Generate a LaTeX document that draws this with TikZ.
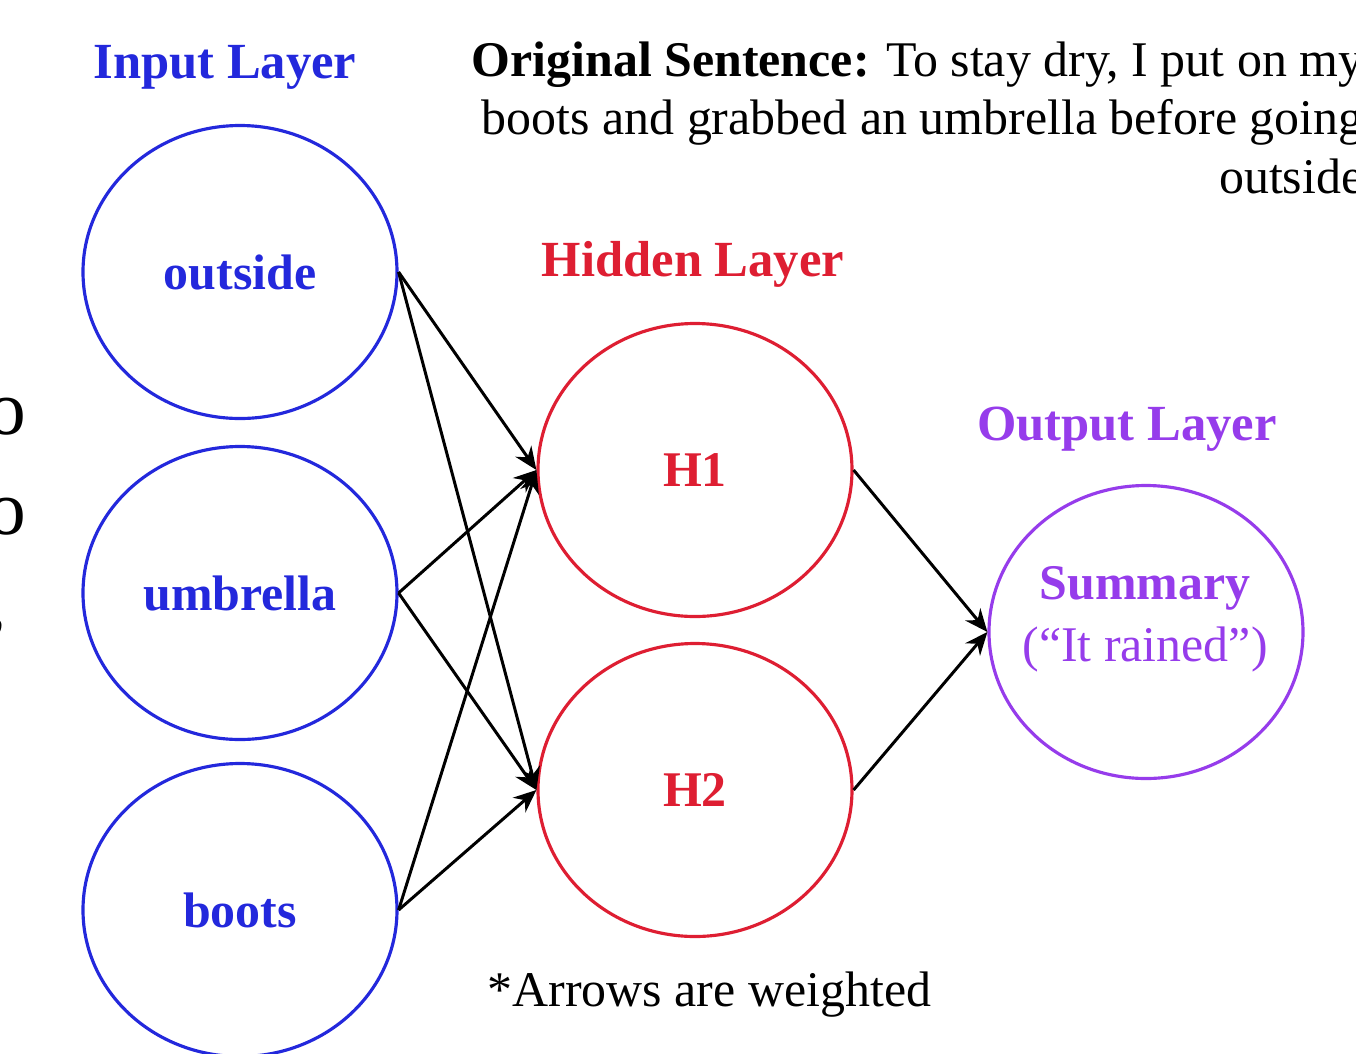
\documentclass[tikz,border=0pt]{standalone}
\usepackage{fontspec}
\setmainfont{Liberation Serif}
\usetikzlibrary{shapes.geometric,arrows.meta}

\definecolor{inblue}{RGB}{35,40,220}
\definecolor{hidred}{RGB}{222,30,50}
\definecolor{outpurple}{RGB}{150,60,235}

\begin{document}
\begin{tikzpicture}[x=1cm, y=-1cm,
  every node/.style={font=\fontsize{14.2}{16.6}\selectfont, inner sep=0pt},
  unit/.style={ellipse, draw, line width=0.9pt, minimum width=3.14cm, minimum height=2.93cm},
  inunit/.style={unit, draw=inblue, text=inblue, font=\fontsize{14.2}{16.6}\selectfont\bfseries},
  hidunit/.style={unit, draw=hidred, text=hidred, font=\fontsize{14.2}{16.6}\selectfont\bfseries},
  outunit/.style={unit, draw=outpurple},
  layertitle/.style={font=\fontsize{14.4}{16.6}\selectfont\bfseries},
  cutoff/.style={font=\fontsize{22}{24}\selectfont, anchor=base east},
  wire/.style={-{Stealth[length=6.5pt, width=5.5pt]}, line width=0.85pt}]

  \useasboundingbox (0,0) rectangle (13.56,10.53);
  \clip (0,0) rectangle (13.56,10.53);

  % bits of text cut off at the left edge
  \node[cutoff] (cutA) at (0.27,4.34) {o};
  \node[cutoff] (cutB) at (0.27,5.34) {o};
  \node[cutoff] (cutC) at (0.08,6.27) {,};

  % layer titles
  \node[layertitle, text=inblue] (intitle) at (2.25,0.67) {Input Layer};
  \node[layertitle, text=hidred] (hidtitle) at (6.93,2.64) {Hidden Layer};
  \node[layertitle, text=outpurple] (outtitle) at (11.27,4.29) {Output Layer};

  \node[anchor=north east, align=right] (sentence) at (13.64,0.41)
    {\textbf{Original Sentence:} To stay dry, I put on my\\
     boots and grabbed an umbrella before going\\
     outside};

  % units
  \node[inunit] (outside) at (2.40,2.72) {outside};
  \node[inunit] (umbrella) at (2.40,5.93) {umbrella};
  \node[inunit] (boots) at (2.40,9.10) {boots};

  \node[hidunit] (h1) at (6.95,4.70) {H1};
  \node[hidunit] (h2) at (6.95,7.90) {H2};

  \node[outunit] (summary) at (11.46,6.32) {};
  \node[text=outpurple, align=center] (summarytext) at (11.45,6.19)
    {\textbf{Summary}\\[1pt](“It rained”)};

  % weighted connections
  \foreach \src in {outside,umbrella,boots}
    \foreach \dst in {h1,h2}
      \draw[wire] (\src.east) -- (\dst.west);

  \draw[wire] (h1.east) -- (summary.west);
  \draw[wire] (h2.east) -- (summary.west);

  \node[anchor=base west] (note) at (4.87,10.06) {*Arrows are weighted};
\end{tikzpicture}
\end{document}
